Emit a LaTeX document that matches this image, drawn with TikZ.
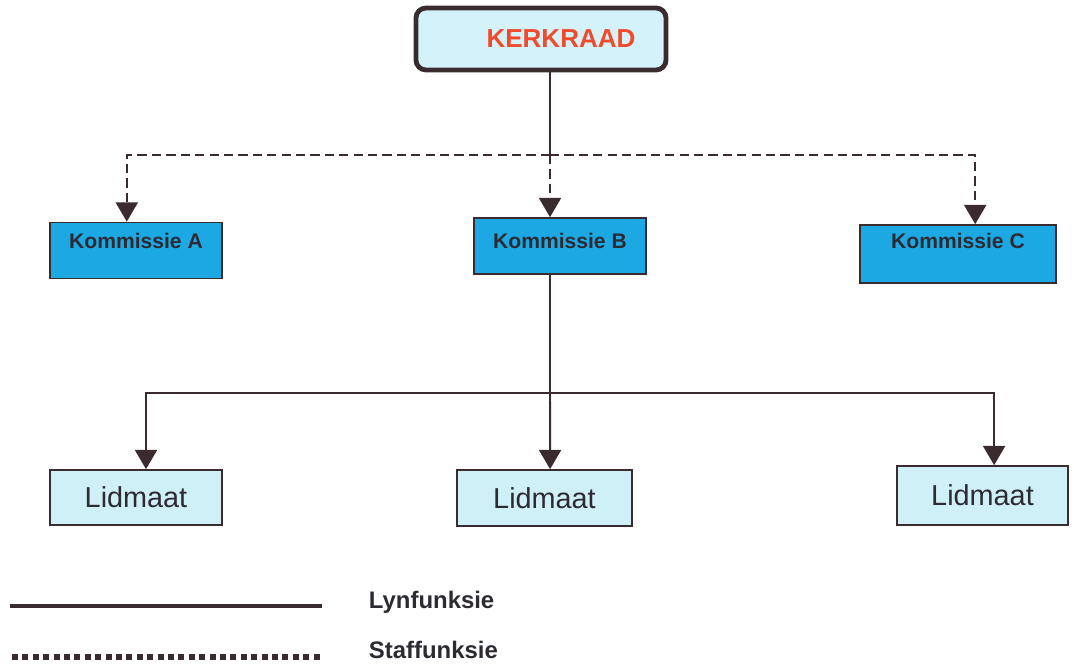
\documentclass[tikz,border=0pt]{standalone}
\usepackage{fontspec}
\setmainfont{Liberation Sans}
\definecolor{lyncol}{RGB}{58, 44, 46}
\definecolor{kerkfill}{RGB}{212, 242, 250}
\definecolor{kerkred}{RGB}{242, 74, 44}
\definecolor{komfill}{RGB}{28, 168, 226}
\definecolor{lidfill}{RGB}{208, 240, 248}
\definecolor{txtcol}{RGB}{45, 42, 50}
\usetikzlibrary{arrows.meta, positioning, calc}

\begin{document}
\begin{tikzpicture}[
        x=0.025cm, y=-0.025cm,
        kerkbox/.style={rectangle, draw=lyncol, line width=3.4pt, fill=kerkfill, rounded corners=0.25cm, minimum width=6.25cm, minimum height=1.55cm, font=\fontsize{18.5}{20}\selectfont\bfseries, text=kerkred},
        kombox/.style={rectangle, draw=lyncol, line width=1.2pt, fill=komfill, minimum width=4.3cm, minimum height=1.4cm, text height=0.4cm, text depth=0.45cm, font=\fontsize{15}{17}\selectfont\bfseries, text=txtcol},
        lidbox/.style={rectangle, draw=lyncol, line width=1.2pt, fill=lidfill, minimum width=4.3cm, minimum height=1.4cm, font=\fontsize{20.5}{22}\selectfont, text=txtcol},
        legtxt/.style={anchor=west, font=\fontsize{17}{19}\selectfont\bfseries, text=txtcol},
        lyn/.style={line width=1.4pt, lyncol},
        staf/.style={line width=1.4pt, lyncol, dash pattern=on 0.23cm off 0.13cm},
        arrow/.style={-{Triangle[width=0.55cm, length=0.48cm]}}
    ]
        \useasboundingbox (0,0) rectangle (1074,665);

        \node[kerkbox] (kerk) at (541,39) {\hspace*{1cm}KERKRAAD};
        \node[kombox, text depth=0.5cm] (komA) at (136,250.5) {Kommissie A};
        \node[kombox, text depth=0.3cm] (komB) at (560,246) {Kommissie B};
        \node[kombox, minimum width=4.9cm, minimum height=1.45cm, text depth=0.68cm] (komC) at (958,254) {Kommissie C};
        \node[lidbox, minimum height=1.375cm] (lidA) at (136,497.5) {Lidmaat};
        \node[lidbox, minimum width=4.375cm] (lidB) at (544.5,498) {Lidmaat};
        \node[lidbox, minimum width=4.275cm, minimum height=1.475cm] (lidC) at (982.5,495.5) {Lidmaat};

        \coordinate (stafpt) at (550,155);
        \coordinate (lynpt) at (550,393);

        % staffunksie
        \draw[lyn] (kerk.south -| stafpt) -- (stafpt);
        \draw[staf, arrow] (stafpt) -| ([xshift=-0.23cm]komA.north);
        \draw[staf, arrow] (stafpt) -- (komB.north -| stafpt);
        \draw[staf, arrow] (stafpt) -| ([xshift=0.43cm]komC.north);

        % lynfunksie
        \draw[lyn] (komB.south -| lynpt) -- (lynpt);
        \draw[lyn, arrow] (lynpt) -| ([xshift=0.25cm]lidA.north);
        \draw[lyn, arrow] (lynpt) -- ([xshift=0.14cm]lidB.north);
        \draw[lyn, arrow] (lynpt) -| ([xshift=0.29cm]lidC.north);

        % legend
        \coordinate (lynA) at (10,606);
        \coordinate (lynB) at (322,606);
        \coordinate (stafA) at (12,657);
        \coordinate (stafB) at (322,657);
        \node[legtxt] (lynleg) at (364,602) {Lynfunksie};
        \node[legtxt] (stafleg) at (364,650) {Staffunksie};
        \draw[line width=3pt, lyncol] (lynA) -- (lynB);
        \draw[line width=4.2pt, lyncol, dash pattern=on 0.15cm off 0.11cm] (stafA) -- (stafB);
    \end{tikzpicture}
\end{document}
